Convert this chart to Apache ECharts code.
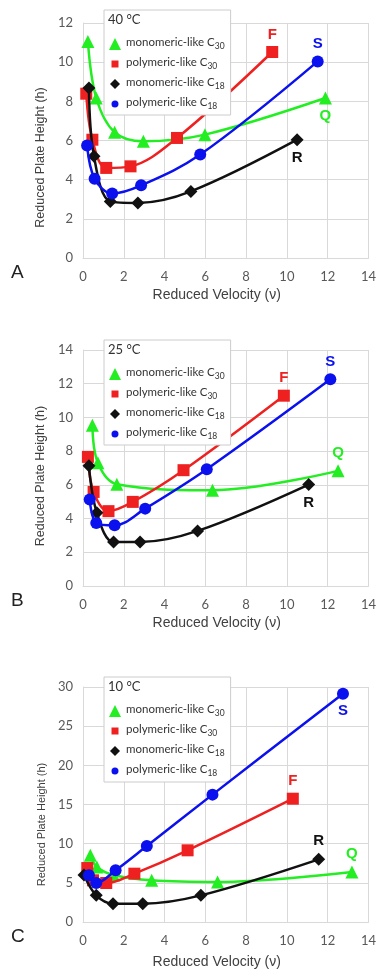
<!DOCTYPE html>
<html>
<head>
<meta charset="utf-8">
<script src="https://cdn.jsdelivr.net/npm/echarts@6/dist/echarts.min.js"></script>
<style>
  html, body { margin: 0; padding: 0; background: #fff; }
  #chart { width: 379px; height: 973px; }
</style>
</head>
<body>
<div id="chart"></div>
<script>
// series names (legend order = drawing order)
const seriesNames = ['monomeric-like C30', 'polymeric-like C30', 'monomeric-like C18', 'polymeric-like C18'];
const endLetters = ['Q', 'F', 'R', 'S'];
const temps = ['40 °C', '25 °C', '10 °C'];
const panelLetters = ['A', 'B', 'C'];

const xTicks = [0, 2, 4, 6, 8, 10, 12, 14];
const yMax = [12, 14, 30];
const yStep = [2, 2, 5];

// panel A, 40 °C  -> [reduced velocity, reduced plate height]
const a_mono30 = [[0.24, 11.06], [0.65, 8.17], [1.55, 6.42], [2.96, 5.96], [5.98, 6.3], [11.89, 8.17]];
const a_poly30 = [[0.16, 8.39], [0.46, 6.04], [1.14, 4.6], [2.33, 4.68], [4.61, 6.13], [9.28, 10.52]];
const a_mono18 = [[0.29, 8.68], [0.54, 5.19], [1.34, 2.89], [2.69, 2.81], [5.29, 3.4], [10.5, 6.04]];
const a_poly18 = [[0.2, 5.74], [0.57, 4.05], [1.43, 3.29], [2.85, 3.71], [5.75, 5.28], [11.51, 10.04]];

// panel B, 25 °C
const b_mono30 = [[0.46, 9.54], [0.73, 7.31], [1.66, 6.04], [6.35, 5.68], [12.51, 6.83]];
const b_poly30 = [[0.24, 7.66], [0.52, 5.58], [1.25, 4.44], [2.44, 4.99], [4.93, 6.87], [9.85, 11.29]];
const b_mono18 = [[0.29, 7.13], [0.68, 4.34], [1.5, 2.61], [2.8, 2.61], [5.62, 3.27], [11.07, 6.02]];
const b_poly18 = [[0.33, 5.13], [0.65, 3.74], [1.55, 3.6], [3.05, 4.59], [6.07, 6.93], [12.13, 12.26]];

// panel C, 10 °C
const c_mono30 = [[0.36, 8.51], [0.68, 7.02], [1.5, 6.0], [3.37, 5.32], [6.6, 5.1], [13.19, 6.38]];
const c_poly30 = [[0.21, 6.89], [0.49, 5.32], [1.14, 4.98], [2.52, 6.17], [5.13, 9.15], [10.29, 15.74]];
const c_mono18 = [[0.05, 6.0], [0.65, 3.4], [1.47, 2.34], [2.93, 2.34], [5.78, 3.4], [11.56, 8.0]];
const c_poly18 = [[0.29, 5.96], [0.65, 4.98], [1.6, 6.6], [3.13, 9.7], [6.35, 16.26], [12.75, 29.15]];

const panels = [
  [a_mono30, a_poly30, a_mono18, a_poly18],
  [b_mono30, b_poly30, b_mono18, b_poly18],
  [c_mono30, c_poly30, c_mono18, c_poly18]
];

// styling
const colors = ['#22ee22', '#ee2020', '#111111', '#0a10ee'];
const symbols = ['triangle', 'rect', 'diamond', 'circle'];
const symbolSizes = [13, 12, 13, 12];
// legend icons drawn smaller inside a 12x12 box (the leading moves fix the box)
const legendIcons = [
  'triangle',
  'path://M0,0M12,12M2.5,2.5h7v7h-7z',
  'path://M0,0M12,12M6,1L11,6L6,11L1,6z',
  'path://M0,0M12,12M6,2.5A3.5,3.5,0,1,1,5.99,2.5z'
];
// where the Q/F/R/S letters sit on each panel
const letterPos = [
  ['bottom', 'top', 'bottom', 'top'],
  ['top', 'top', 'bottom', 'top'],
  ['top', 'top', 'top', 'bottom']
];
const grids = [
  { left: 83, top: 23, width: 287, height: 235 },
  { left: 83, top: 350, width: 287, height: 236 },
  { left: 83, top: 687, width: 287, height: 235 }
];
const legendTops = [10, 340, 677];
const yNameShift = [34, 16, 40];
const yNameSize = [12.5, 12.5, 11];
const xNameGap = [30, 30, 33];

const gridColor = '#d9d9d9';
const labelColor = '#595959';

const chart = echarts.init(document.getElementById('chart'));

const option = {
  animation: false,
  backgroundColor: '#fff',
  textStyle: { fontFamily: 'Lato, sans-serif' },
  grid: grids,
  xAxis: grids.map((g, i) => ({
    type: 'value',
    gridIndex: i,
    min: xTicks[0],
    max: xTicks[xTicks.length - 1],
    interval: 2,
    name: 'Reduced Velocity (\u03bd)',
    nameLocation: 'middle',
    nameGap: xNameGap[i],
    nameTextStyle: {
      fontFamily: 'Liberation Sans, Arial, sans-serif',
      fontSize: 14,
      color: '#404040',
      padding: [0, 18, 0, 0]
    },
    axisLine: { show: true, lineStyle: { color: gridColor } },
    axisTick: { show: false },
    axisLabel: { color: labelColor, fontSize: 13, margin: 12 },
    splitLine: { show: true, lineStyle: { color: gridColor } }
  })),
  yAxis: grids.map((g, i) => ({
    type: 'value',
    gridIndex: i,
    min: 0,
    max: yMax[i],
    interval: yStep[i],
    name: 'Reduced Plate Height (h)',
    nameLocation: 'middle',
    nameGap: 35,
    nameTextStyle: {
      fontFamily: 'Liberation Sans, Arial, sans-serif',
      fontSize: yNameSize[i],
      color: '#404040',
      padding: [0, yNameShift[i], 0, 0]
    },
    axisLine: { show: true, lineStyle: { color: gridColor } },
    axisTick: { show: false },
    axisLabel: { color: labelColor, fontSize: 13, margin: 10 },
    splitLine: { show: true, lineStyle: { color: gridColor } }
  })),
  title: temps.map((t, i) => ({
    text: t,
    left: 106,
    top: legendTops[i] + 1,
    padding: 2,
    textStyle: { fontFamily: 'Lato, sans-serif', fontSize: 13, fontWeight: 'normal', color: '#333' },
    z: 10
  })),
  legend: temps.map((t, i) => ({
    orient: 'vertical',
    left: 104,
    top: legendTops[i],
    padding: [26, 6, 4, 5],
    itemGap: 5,
    itemWidth: 12,
    itemHeight: 12,
    itemTextGap: 5,
    backgroundColor: '#fff',
    borderColor: '#cccccc',
    borderWidth: 1,
    borderRadius: 0,
    selectedMode: false,
    data: seriesNames.map((n, k) => ({ name: n, icon: legendIcons[k], itemStyle: { color: colors[k] } })),
    formatter: name => {
      const m = name.match(/^(.*C)(\d+)$/);
      return '{t|' + m[1] + '}{s|' + m[2] + '}';
    },
    textStyle: {
      rich: {
        t: { fontFamily: 'Lato, sans-serif', fontSize: 11.5, color: '#333', lineHeight: 14, verticalAlign: 'bottom', padding: [0, 0, 3, 0] },
        s: { fontFamily: 'Lato, sans-serif', fontSize: 8.5, color: '#333', lineHeight: 10, verticalAlign: 'bottom' }
      }
    },
    z: 5
  })),
  graphic: panelLetters.map((l, i) => ({
    type: 'text',
    left: 11,
    top: grids[i].top + grids[i].height + 5,
    style: { text: l, font: '19px "Liberation Sans", Arial, sans-serif', fill: '#222' }
  })),
  series: []
};

panels.forEach((set, p) => {
  set.forEach((pts, k) => {
    const data = pts.map((pt, j) => {
      if (j < pts.length - 1) return pt;
      return {
        value: pt,
        label: {
          show: true,
          formatter: endLetters[k],
          position: letterPos[p][k],
          distance: 4,
          color: colors[k],
          fontFamily: 'Liberation Sans, Arial, sans-serif',
          fontWeight: 'bold',
          fontSize: 15
        }
      };
    });
    option.series.push({
      name: seriesNames[k],
      type: 'line',
      xAxisIndex: p,
      yAxisIndex: p,
      smooth: 0.35,
      data: data,
      symbol: symbols[k],
      symbolSize: symbolSizes[k],
      showAllSymbol: true,
      itemStyle: { color: colors[k] },
      lineStyle: { color: colors[k], width: 2.5 },
      emphasis: { disabled: true },
      z: 2 + k
    });
  });
});

chart.setOption(option);
</script>
</body>
</html>
